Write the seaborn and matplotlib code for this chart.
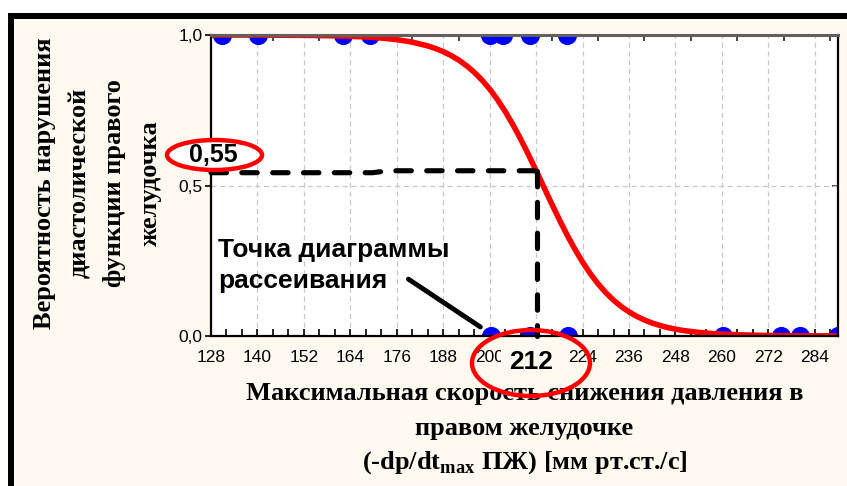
import numpy as np
import pandas as pd
import matplotlib
matplotlib.use('Agg')
import matplotlib.pyplot as plt
import seaborn as sns
from matplotlib.patches import Ellipse, Rectangle
from matplotlib.ticker import FuncFormatter, MultipleLocator, FixedLocator

# ---------------- data ----------------
# observed cases (outcome 1 = нарушение, 0 = нет)
pts_x_one = [130.8, 140.2, 162.2, 169.1, 200.2, 203.5, 210.5, 220.1]
pts_x_zero = [200.3, 210.5, 220.3, 260.2, 275.2, 280.1, 290.0]

# fitted logistic curve
curve_x = [128, 140, 152, 160, 168, 172, 176, 180, 184, 186, 188, 190, 192, 194,
           196, 198, 200, 202, 204, 206, 208, 210, 212, 214, 216, 218, 220, 222,
           224, 226, 228, 230, 232, 234, 236, 238, 240, 242, 244, 246, 248, 250,
           254, 258, 264, 272, 282, 290]
curve_p = [1.0000, 0.9997, 0.9989, 0.9973, 0.9936, 0.9900, 0.9846, 0.9763, 0.9637,
           0.9551, 0.9447, 0.9320, 0.9167, 0.8982, 0.8763, 0.8505, 0.8203, 0.7855,
           0.7461, 0.7022, 0.6543, 0.6030, 0.5494, 0.4945, 0.4398, 0.3865, 0.3358,
           0.2886, 0.2456, 0.2072, 0.1734, 0.1440, 0.1190, 0.0978, 0.0800, 0.0652,
           0.0530, 0.0430, 0.0348, 0.0281, 0.0227, 0.0183, 0.0119, 0.0077, 0.0040,
           0.0017, 0.0006, 0.0002]

# guide lines
guide_h_x = [128, 169.7, 173.8, 213.5]
guide_h_y = [0.5425, 0.5425, 0.549, 0.549]
guide_v_x = [212.3, 212.3]
guide_v_y = [0.549, 0.0]
pointer_x = [179.0, 197.6]
pointer_y = [0.189, 0.03]

x_ticks = list(range(128, 285, 12))
top_ticks = list(range(132, 289, 12))
y_ticks = [0.0, 0.5, 1.0]

ylabel_lines = ["Вероятность нарушения", "диастолической", "функции правого", "желудочка"]
xlabel_lines = ["Максимальная скорость снижения давления в", "правом желудочке",
                "(-dp/dt$_{\\mathregular{max}}$ ПЖ) [мм рт.ст./с]"]
annot_lines = ["Точка диаграммы", "рассеивания"]
val_p = "0,55"
val_x = "212"

# ---------------- style ----------------
sns.set_style("ticks")
plt.rcParams['font.family'] = ['Liberation Sans', 'DejaVu Sans']
plt.rcParams['mathtext.fontset'] = 'custom'
plt.rcParams['mathtext.rm'] = 'Liberation Serif:bold'

CREAM = '#FFF9EF'
W, H = 847, 486
def fx(px):
    return px / W
def fy(py):
    return 1 - py / H

fig = plt.figure(figsize=(W / 100, H / 100), dpi=100, facecolor='white')
fig.patches.append(Rectangle((fx(8), 0), 1, fy(13), transform=fig.transFigure,
                             facecolor='black', edgecolor='none', zorder=-3))
fig.patches.append(Rectangle((fx(14), 0), 1, fy(19), transform=fig.transFigure,
                             facecolor=CREAM, edgecolor='none', zorder=-2))

ax = fig.add_axes([fx(211), fy(336), fx(838) - fx(211), fy(35) - fy(336)])
ax.set_zorder(1)
ax.set_facecolor('white')

df = pd.DataFrame({
    'x': pts_x_one + pts_x_zero,
    'y': [1.0] * len(pts_x_one) + [0.0] * len(pts_x_zero),
})
sns.scatterplot(data=df, x='x', y='y', color='#0000FF', s=190, linewidth=0,
                ax=ax, zorder=3, legend=False, clip_on=True)
sns.lineplot(x=curve_x, y=curve_p, color='#FF0000', linewidth=4, ax=ax, zorder=4,
             sort=True)

ax.plot(guide_h_x, guide_h_y, color='black', lw=3.7, dashes=(3, 3),
        dash_capstyle='round', solid_capstyle='round', zorder=5, clip_on=False)
ax.plot(guide_v_x, guide_v_y, color='black', lw=3.7, dashes=(3, 3),
        dash_capstyle='round', zorder=5, clip_on=False)
ax.plot(pointer_x, pointer_y, color='black', lw=3.5, solid_capstyle='round', zorder=5)

ax.set_xlim(128, 290)
ax.set_ylim(0, 1)
ax.set_xlabel('')
ax.set_ylabel('')

ax.xaxis.set_major_locator(FixedLocator(x_ticks))
ax.xaxis.set_minor_locator(MultipleLocator(4))
ax.yaxis.set_major_locator(FixedLocator(y_ticks))
ax.yaxis.set_major_formatter(FuncFormatter(lambda v, p: f"{v:.1f}".replace('.', ',')))
ax.tick_params(axis='x', which='both', direction='in', length=5, width=1.2,
               labelsize=12.5, pad=10, colors='black')
ax.tick_params(axis='y', which='major', direction='out', length=4, width=1.2,
               labelsize=12.5, pad=2, colors='black')

ax.grid(True, which='major', color='#c8c8c8', linestyle=(0, (4, 3)), linewidth=0.9)
ax.set_axisbelow(True)
for side in ['left', 'bottom', 'right']:
    ax.spines[side].set_color('black')
    ax.spines[side].set_linewidth(1.6)
ax.spines['top'].set_color('#606060')
ax.spines['top'].set_linewidth(2.2)
for s in ax.spines.values():
    s.set_zorder(6)

sec = ax.secondary_xaxis('top')
sec.xaxis.set_major_locator(FixedLocator(top_ticks))
sec.tick_params(axis='x', direction='in', length=4, width=1.2, labeltop=False)
sec.spines['top'].set_visible(False)

secy = ax.secondary_yaxis('right')
secy.yaxis.set_major_locator(FixedLocator(y_ticks))
secy.tick_params(axis='y', direction='in', length=4, width=1.2, labelright=False)
secy.spines['right'].set_visible(False)

serif = ['Liberation Serif', 'DejaVu Serif']
sans = ['Liberation Sans', 'DejaVu Sans']

# y-axis title (4 rotated lines)
for i, line in enumerate(ylabel_lines):
    fig.text(fx(45 + 35 * i), fy(183), line, rotation=90, ha='center', va='center',
             fontsize=19, fontweight='bold', family=serif, color='black')

# x-axis title (3 lines)
for i, line in enumerate(xlabel_lines):
    fig.text(fx(524.5), fy(393 + 35 * i), line, ha='center', va='center',
             fontsize=19, fontweight='bold', family=serif, color='black')

# annotation text
fig.text(fx(218), fy(257), annot_lines[0], ha='left', va='baseline', fontsize=19,
         fontweight='bold', family=sans, color='black', zorder=7)
fig.text(fx(218), fy(288), annot_lines[1], ha='left', va='baseline', fontsize=19,
         fontweight='bold', family=sans, color='black', zorder=7)

# 0,55 with ellipse
fig.patches.append(Ellipse((fx(214.5), fy(155)), fx(95), 30 / H, transform=fig.transFigure,
                           facecolor='white', edgecolor='#FF0000', lw=3.2, zorder=8))
fig.text(fx(213.5), fy(155), val_p, ha='center', va='center', fontsize=18,
         fontweight='bold', family=sans, color='black', zorder=9)

# 212 with ellipse
fig.text(fx(531), fy(362), val_x, ha='center', va='center', fontsize=19,
         fontweight='bold', family=sans, color='black', zorder=9,
         bbox=dict(boxstyle='square,pad=0.3', facecolor=CREAM, edgecolor='none'))
fig.patches.append(Ellipse((fx(531), fy(363)), fx(118), 66 / H, transform=fig.transFigure,
                           facecolor='none', edgecolor='#FF0000', lw=3.2, zorder=10))

fig.savefig('out.png', dpi=100, facecolor=fig.get_facecolor())
